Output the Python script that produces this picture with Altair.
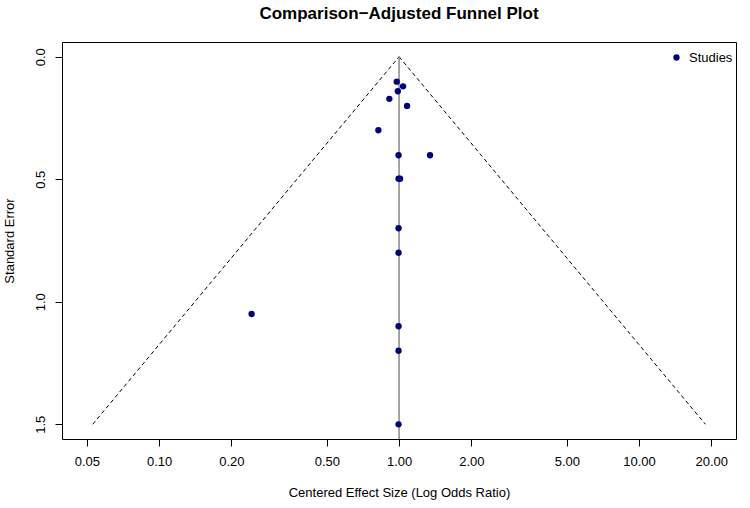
import altair as alt
import pandas as pd

# Study points
or_values = [0.978, 1.039, 0.988, 0.911, 1.08, 0.820, 0.995, 1.346, 0.995, 1.01,
             0.995, 0.995, 0.243, 0.995, 0.995, 0.995]
se_values = [0.102, 0.121, 0.141, 0.172, 0.201, 0.300, 0.402, 0.402, 0.498, 0.498,
             0.700, 0.800, 1.050, 1.100, 1.200, 1.500]

# Funnel outline (pseudo 95% limits) and centre line
funnel_x = [0.0529, 1.0, 18.9]
funnel_y = [1.5, 0.0, 1.5]
center_x = [1.0, 1.0]
center_y = [0.0, 1.56]

x_ticks = [0.05, 0.1, 0.2, 0.5, 1, 2, 5, 10, 20]
y_ticks = [0.0, 0.5, 1.0, 1.5]

FONT = "Liberation Sans"

pts = pd.DataFrame({"or": or_values, "se": se_values, "label": ["Studies"] * len(or_values)})
fun = pd.DataFrame({
    "or": [funnel_x[0], funnel_x[1], funnel_x[1], funnel_x[2]],
    "se": [funnel_y[0], funnel_y[1], funnel_y[1], funnel_y[2]],
    "side": ["L", "L", "R", "R"],
})
cen = pd.DataFrame({"or": center_x, "se": center_y})

xscale = alt.Scale(type="log", domain=[0.0394, 25.35], nice=False, zero=False)
yscale = alt.Scale(domain=[-0.06, 1.56], reverse=True, nice=False, zero=False)

xaxis = alt.Axis(values=x_ticks, format=".2f", title="Centered Effect Size (Log Odds Ratio)",
                 grid=False, domain=False, tickSize=7, tickColor="#000000",
                 labelFontSize=13, labelFont=FONT, labelColor="#000000", labelPadding=9,
                 titleFontSize=13, titleFont=FONT, titleFontWeight="normal", titleColor="#000000",
                 titlePadding=18, labelFlush=False, labelOverlap=False)
yaxis = alt.Axis(values=y_ticks, format=".1f", title="Standard Error",
                 grid=False, domain=False, tickSize=7, tickColor="#000000",
                 labelFontSize=13, labelFont=FONT, labelColor="#000000", labelPadding=8,
                 labelAngle=-90, labelAlign="center", labelBaseline="bottom",
                 titleFontSize=13, titleFont=FONT, titleFontWeight="normal", titleColor="#000000",
                 titlePadding=18, labelFlush=False, labelOverlap=False)

funnel = alt.Chart(fun).mark_line(color="#000000", strokeDash=[4, 3], strokeWidth=1).encode(
    x=alt.X("or:Q", scale=xscale, axis=xaxis),
    y=alt.Y("se:Q", scale=yscale, axis=yaxis),
    detail="side:N",
)

center = alt.Chart(cen).mark_line(color="#888888", strokeWidth=1.5).encode(
    x=alt.X("or:Q", scale=xscale),
    y=alt.Y("se:Q", scale=yscale),
)

points = alt.Chart(pts).mark_circle(size=40, opacity=1).encode(
    x=alt.X("or:Q", scale=xscale),
    y=alt.Y("se:Q", scale=yscale),
    color=alt.Color("label:N", scale=alt.Scale(domain=["Studies"], range=["#00007F"]),
                    legend=alt.Legend(title=None, orient="none", legendX=608, legendY=9,
                                      labelFont=FONT, labelFontSize=13, labelColor="#000000",
                                      symbolType="circle", symbolSize=40, symbolStrokeWidth=0,
                                      labelOffset=6)),
)

chart = (funnel + center + points).properties(
    width=674, height=397,
    background="white",
    title=alt.TitleParams("Comparison\u2212Adjusted Funnel Plot", font=FONT, fontSize=17,
                          fontWeight="bold", color="#000000", anchor="middle", offset=19),
    autosize=alt.AutoSizeParams(type="none"),
    padding={"left": 62, "top": 42, "right": 14, "bottom": 69},
).configure_view(stroke="#000000", strokeWidth=1)

chart.save("out.html", embed_options={"renderer": "svg", "actions": False})
